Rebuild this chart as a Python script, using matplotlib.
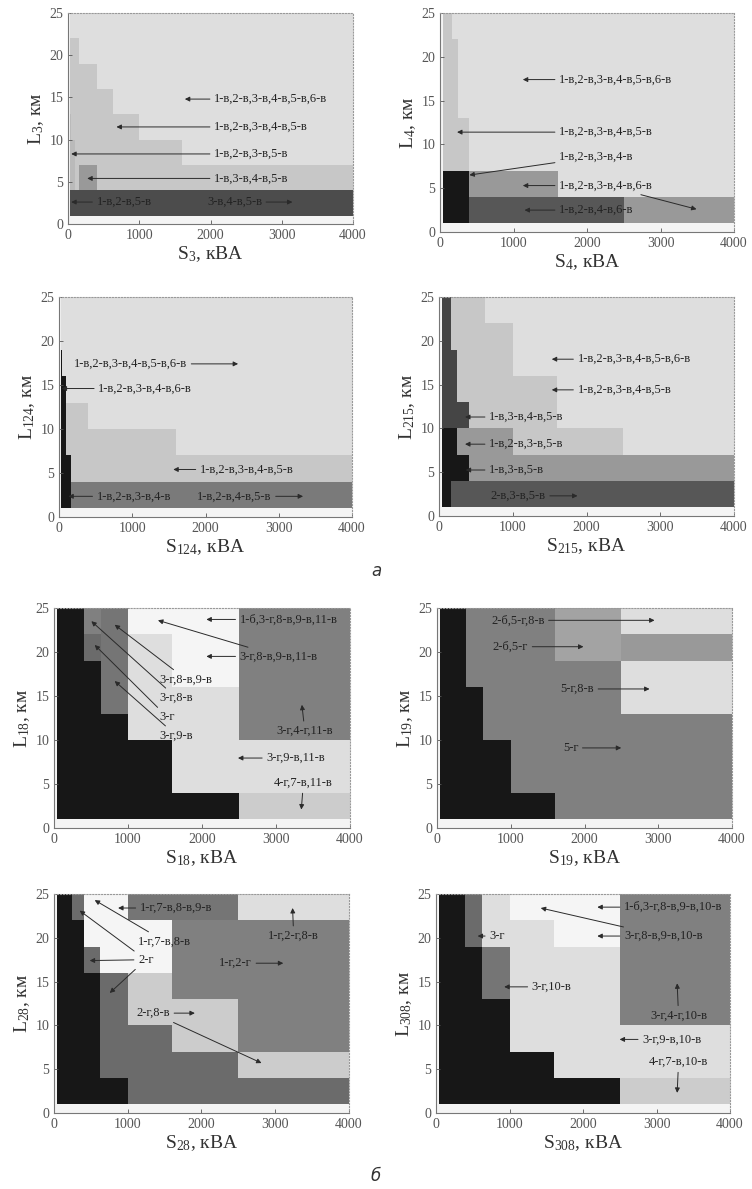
import numpy as np
import matplotlib
matplotlib.use("Agg")
import matplotlib.pyplot as plt

plt.rcParams["font.family"] = ["Liberation Serif", "DejaVu Serif"]
plt.rcParams["mathtext.fontset"] = "custom"
plt.rcParams["mathtext.rm"] = "Liberation Serif"
plt.rcParams["mathtext.it"] = "Liberation Serif:italic"

# transformer power steps (kVA) and line length steps (km)
s_edges = [25, 40, 63, 100, 160, 250, 400, 630, 1000, 1600, 2500, 4000]
l_edges = [1, 4, 7, 10, 13, 16, 19, 22, 25]
x_ticks = [0, 1000, 2000, 3000, 4000]
y_ticks = [0, 5, 10, 15, 20, 25]

# grey level of every region code ('.' = no region)
shades = {"A": 0.87, "B": 0.78, "S": 0.73, "K": 0.80, "Q": 0.64, "C": 0.60,
          "M": 0.50, "R": 0.48, "N": 0.46, "P": 0.42, "E": 0.34, "F": 0.30,
          "H": 0.27, "G": 0.09, "W": 0.96}

# region maps, one string per km band, top band (22-25 km) first,
# one character per kVA band (25-40 ... 2500-4000)
grid_s3 = ["AAAAAAAAAAA", "BBBBAAAAAAA", "BBBBBBAAAAA", "BBBBBBBAAAA",
           "SBBBBBBBAAA", "SSSBBBBBBAA", "SSSBCCBBBBB", "FFFFFFFFFFF"]
grid_s4 = [".BBBAAAAAAA", ".BBBBAAAAAA", ".BBBBAAAAAA", ".BBBBAAAAAA",
           ".BBBBBAAAAA", ".BBBBBAAAAA", ".GGGGGCCCAA", ".GGGGGEEEEC"]
grid_s124 = ["AAAAAAAAAAA", "AAAAAAAAAAA", "GAAAAAAAAAA", "GGGAAAAAAAA",
             "GGGBBBAAAAA", "GGGBBBBBBAA", "GGGGBBBBBBB", "GGGGRRRRRRR"]
grid_s215 = [".HHHBBBAAAA", ".HHHBBBBAAA", ".HHHHBBBAAA", ".HHHHBBBBAA",
             ".HHHHHBBBAA", ".GGGGCCCBBA", ".GGGGGCCCCC", ".GGGEEEEEEE"]
grid_s18 = [".GGGGGMNWWM", ".GGGGGPNAWM", ".GGGGGGNAWM", ".GGGGGGNAAM",
            ".GGGGGGGAAM", ".GGGGGGGGAA", ".GGGGGGGGAA", ".GGGGGGGGGK"]
grid_s19 = [".GGGGGMMMQA", ".GGGGGMMMQC", ".GGGGGMMMMA", ".GGGGGGMMMA",
            ".GGGGGGMMMM", ".GGGGGGGMMM", ".GGGGGGGMMM", ".GGGGGGGGMM"]
grid_s28 = [".GGGGPWWNNA", ".GGGGGWWWMM", ".GGGGGPWWMM", ".GGGGGGPKMM",
            ".GGGGGGPKKM", ".GGGGGGPPKM", ".GGGGGGPPPK", ".GGGGGGGPPP"]
grid_s308 = [".GGGGGPAWWM", ".GGGGGPAAWM", ".GGGGGGNAAM", ".GGGGGGNAAM",
             ".GGGGGGGAAM", ".GGGGGGGAAA", ".GGGGGGGGAA", ".GGGGGGGGGK"]

# labels: text, text anchor (x, y), alignment, arrow targets
notes_s3 = [
    ("1-в,2-в,3-в,4-в,5-в,6-в", (2050, 14.8), "left", [(1640, 14.8)]),
    ("1-в,2-в,3-в,4-в,5-в", (2050, 11.5), "left", [(680, 11.5)]),
    ("1-в,2-в,3-в,5-в", (2050, 8.3), "left", [(45, 8.3)]),
    ("1-в,3-в,4-в,5-в", (2050, 5.4), "left", [(270, 5.4)]),
    ("1-в,2-в,5-в", (400, 2.6), "left", [(45, 2.6)]),
    ("3-в,4-в,5-в", (1950, 2.6), "left", [(3150, 2.6)]),
]
notes_s4 = [
    ("1-в,2-в,3-в,4-в,5-в,6-в", (1620, 17.4), "left", [(1127, 17.4)]),
    ("1-в,2-в,3-в,4-в,5-в", (1620, 11.4), "left", [(232, 11.4)]),
    ("1-в,2-в,3-в,4-в", (1620, 8.6), "left", [(400, 6.5)]),
    ("1-в,2-в,3-в,4-в,6-в", (1620, 5.3), "left", [(1127, 5.3), (3490, 2.6)]),
    ("1-в,2-в,4-в,6-в", (1620, 2.5), "left", [(1150, 2.5)]),
]
notes_s124 = [
    ("1-в,2-в,3-в,4-в,5-в,6-в", (205, 17.4), "left", [(2445, 17.4)]),
    ("1-в,2-в,3-в,4-в,6-в", (536, 14.6), "left", [(36, 14.6)]),
    ("1-в,2-в,3-в,4-в,5-в", (1923, 5.4), "left", [(1560, 5.4)]),
    ("1-в,2-в,3-в,4-в", (514, 2.35), "left", [(127, 2.35)]),
    ("1-в,2-в,4-в,5-в", (1886, 2.35), "left", [(3332, 2.35)]),
]
notes_s215 = [
    ("1-в,2-в,3-в,4-в,5-в,6-в", (1878, 17.9), "left", [(1529, 17.9)]),
    ("1-в,2-в,3-в,4-в,5-в", (1878, 14.4), "left", [(1529, 14.4)]),
    ("1-в,3-в,4-в,5-в", (679, 11.3), "left", [(353, 11.3)]),
    ("1-в,2-в,3-в,5-в", (679, 8.2), "left", [(353, 8.2)]),
    ("1-в,3-в,5-в", (679, 5.25), "left", [(362, 5.25)]),
    ("2-в,3-в,5-в", (701, 2.3), "left", [(1878, 2.3)]),
]
notes_s18 = [
    ("1-б,3-г,8-в,9-в,11-в", (2509, 23.7), "left", [(2059, 23.7)]),
    ("3-г,8-в,9-в,11-в", (2509, 19.5), "left", [(2059, 19.5), (1405, 23.6)]),
    ("3-г,8-в,9-в", (1428, 16.9), "left", [(820, 23.1)]),
    ("3-г,8-в", (1428, 14.8), "left", [(505, 23.5)]),
    ("3-г", (1428, 12.6), "left", [(550, 20.8)]),
    ("3-г,9-в", (1428, 10.5), "left", [(820, 16.7)]),
    ("3-г,4-г,11-в", (3390, 11.0), "center", [(3350, 14.0)]),
    ("3-г,9-в,11-в", (2869, 7.95), "left", [(2486, 7.95)]),
    ("4-г,7-в,11-в", (3370, 5.1), "center", [(3342, 2.1)]),
]
notes_s19 = [
    ("2-б,5-г,8-в", (733, 23.6), "left", [(2950, 23.6)]),
    ("2-б,5-г", (756, 20.6), "left", [(1986, 20.6)]),
    ("5-г,8-в", (1674, 15.8), "left", [(2882, 15.8)]),
    ("5-г", (1706, 9.1), "left", [(2498, 9.1)]),
]
notes_s28 = [
    ("1-г,7-в,8-в,9-в", (1163, 23.4), "left", [(869, 23.4)]),
    ("1-г,7-в,8-в", (1140, 19.6), "left", [(552, 24.3)]),
    ("2-г", (1140, 17.5), "left", [(348, 23.1), (484, 17.4), (756, 13.7)]),
    ("1-г,2-г,8-в", (3250, 20.2), "center", [(3235, 23.4)]),
    ("1-г,2-г", (2240, 17.1), "left", [(3109, 17.1)]),
    ("2-г,8-в", (1118, 11.4), "left", [(1910, 11.4), (2814, 5.7)]),
]
notes_s308 = [
    ("1-б,3-г,8-в,9-в,10-в", (2557, 23.5), "left", [(2195, 23.5)]),
    ("3-г,8-в,9-в,10-в", (2557, 20.2), "left", [(2195, 20.2), (1425, 23.4)]),
    ("3-г", (724, 20.2), "left", [(566, 20.2)]),
    ("3-г,10-в", (1303, 14.4), "left", [(928, 14.4)]),
    ("3-г,4-г,10-в", (3300, 11.1), "center", [(3281, 14.8)]),
    ("3-г,9-в,10-в", (2805, 8.4), "left", [(2498, 8.4)]),
    ("4-г,7-в,10-в", (3300, 5.8), "center", [(3281, 2.3)]),
]

# axes boxes in pixels: left, top, right, bottom
panels = [
    ((68, 13, 353, 224), "3", grid_s3, notes_s3),
    ((440, 13, 734, 232), "4", grid_s4, notes_s4),
    ((59, 297, 352, 517), "124", grid_s124, notes_s124),
    ((439, 297, 734, 516), "215", grid_s215, notes_s215),
    ((54, 608, 350, 828), "18", grid_s18, notes_s18),
    ((437, 608, 732, 828), "19", grid_s19, notes_s19),
    ((54, 894, 349, 1113), "28", grid_s28, notes_s28),
    ((436, 894, 730, 1113), "308", grid_s308, notes_s308),
]

W, H = 752, 1189


def draw_panel(ax, grid, notes, sub):
    codes = [list(row) for row in grid[::-1]]
    vals = np.array([[shades.get(c, np.nan) for c in row] for row in codes])
    vals = np.ma.masked_invalid(vals)
    ax.set_facecolor("#f4f4f4")
    ax.pcolormesh(s_edges, l_edges, vals, cmap="gray", vmin=0, vmax=1,
                  shading="flat")
    ax.set_xlim(0, 4000)
    ax.set_ylim(0, 25)
    ax.set_xticks(x_ticks)
    ax.set_yticks(y_ticks)
    ax.tick_params(labelsize=10, colors="#555555", direction="in", length=3,
                   width=0.6)
    for side in ("left", "bottom"):
        ax.spines[side].set_color("#777777")
        ax.spines[side].set_linewidth(0.8)
    for side in ("top", "right"):
        ax.spines[side].set_color("#999999")
        ax.spines[side].set_linestyle(":")
        ax.spines[side].set_linewidth(0.8)
    ax.set_xlabel(r"S$_{\mathrm{%s}}$, кВА" % sub, fontsize=14,
                  color="#333333", labelpad=2)
    ax.set_ylabel(r"L$_{\mathrm{%s}}$, км" % sub, fontsize=14,
                  color="#333333", labelpad=2)

    for text, pos, ha, targets in notes:
        for i, tgt in enumerate(targets):
            ax.annotate(text, xy=tgt, xytext=pos, ha=ha, va="center",
                        fontsize=9, color="#222222" if i == 0 else "none",
                        arrowprops=dict(arrowstyle="-|>", color="#2a2a2a",
                                        lw=0.7, mutation_scale=7,
                                        shrinkA=1, shrinkB=0))


fig = plt.figure(figsize=(W / 100, H / 100), dpi=100)
for (l, t, r, b), sub, grid, notes in panels:
    ax = fig.add_axes([l / W, 1 - b / H, (r - l) / W, (b - t) / H])
    draw_panel(ax, grid, notes, sub)

fig.text(376 / W, 1 - 571 / H, "а", fontsize=12, style="italic",
         family="DejaVu Sans", color="#333333", ha="center", va="center")
fig.text(376 / W, 1 - 1176 / H, "б", fontsize=12, style="italic",
         family="DejaVu Sans", color="#333333", ha="center", va="center")

fig.savefig("out.png", dpi=100, facecolor="white")
